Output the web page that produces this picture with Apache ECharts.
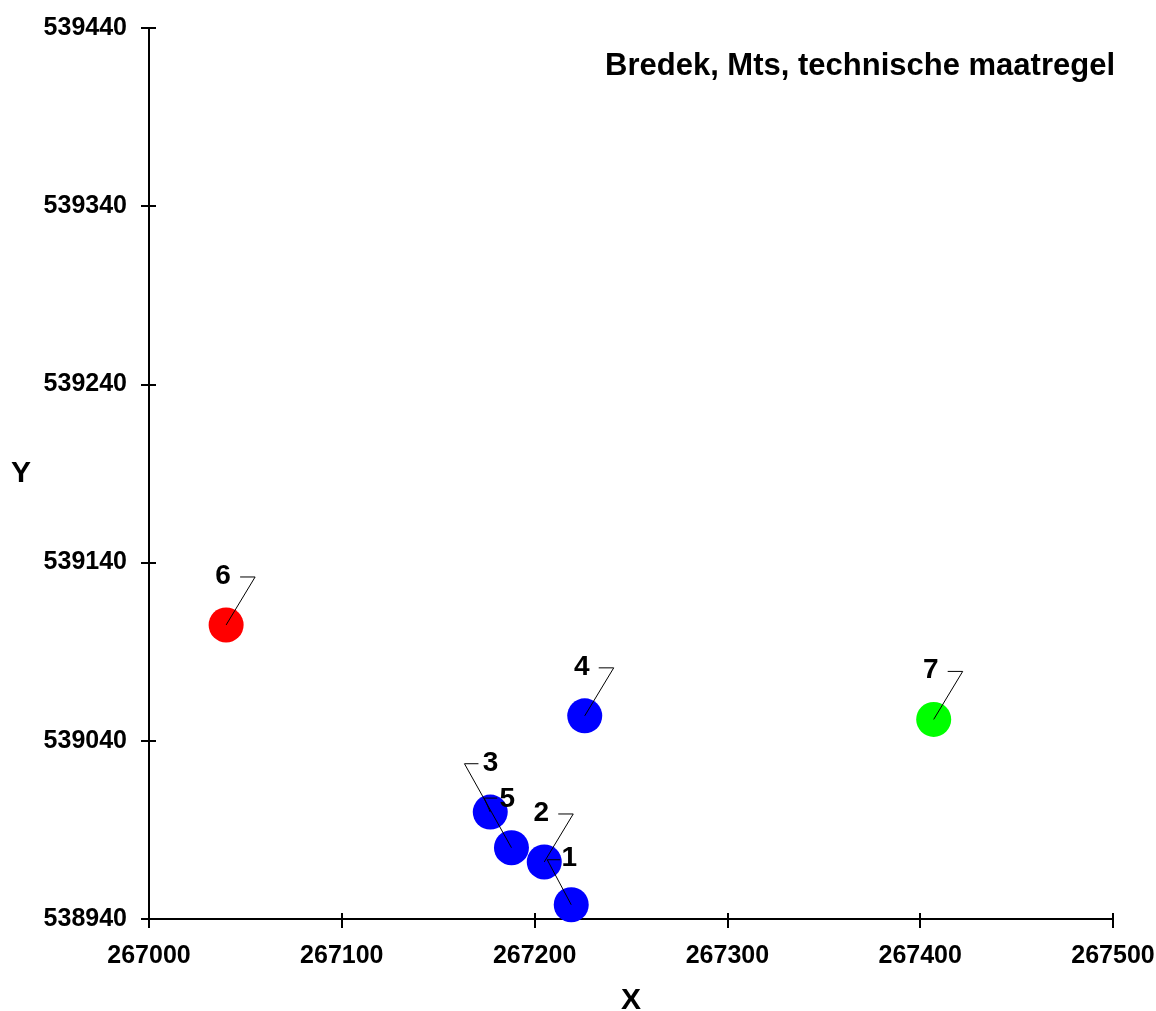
<!DOCTYPE html>
<html>
<head>
<meta charset="utf-8">
<title>Bredek, Mts, technische maatregel</title>
<script src="https://cdn.jsdelivr.net/npm/echarts@6/dist/echarts.min.js"></script>
<style>
  html, body { margin: 0; padding: 0; background: #fff; }
  #main { width: 1156px; height: 1011px; }
</style>
</head>
<body>
<div id="main"></div>
<script>
    // punten (naam, X, Y)
    var pointNames = ['1', '2', '3', '4', '5', '6', '7'];
    var pointX = [267219, 267205, 267188, 267226, 267177, 267040, 267407];
    var pointY = [538948, 538972, 538980, 539054, 539000, 539105, 539052];

    var xTicks = [267000, 267500, 100];
    var yTicks = [538940, 539440, 100];

    // kleur per punt, rest blauw
    var pointColor = { '6': '#ff0000', '7': '#00ff00' };
    // leader: [eind dx, eind dy, haak dx, tekst dx, tekst dy]
    var leader = {
        '1': [-24, -45, -11, -2, -46],
        '3': [-47, -84, -33, -21, -84],
        '5': [-6, -14, 7, 17, -13]
    };
    var leaderDefault = [29, -48, 14, -3, -49];

    var font = '"Liberation Sans", Arial, sans-serif';

    var pts = [];
    for (var i = 0; i < pointNames.length; i++) {
        pts.push([pointX[i], pointY[i], pointNames[i]]);
    }

    var myChart = echarts.init(document.getElementById('main'));

    var nameText = { color: '#000', fontFamily: font, fontWeight: 'bold', fontSize: 30 };
    var tickLabel = function (v) { return String(v); };

    var option = {
        backgroundColor: '#fff',
        animation: false,
        title: {
            text: 'Bredek, Mts, technische maatregel',
            right: 36,
            top: 46,
            textStyle: { color: '#000', fontFamily: font, fontWeight: 'bold', fontSize: 31 }
        },
        grid: { left: 149, right: 43, top: 28, bottom: 92, containLabel: false, outerBoundsMode: 'none' },
        xAxis: [{
            type: 'value',
            min: xTicks[0], max: xTicks[1], interval: xTicks[2],
            name: 'X',
            nameLocation: 'middle',
            nameGap: 67,
            nameTextStyle: nameText,
            axisLine: { show: true, lineStyle: { color: '#000', width: 2 } },
            axisTick: { show: true, length: 9, lineStyle: { color: '#000', width: 2 } },
            axisLabel: { margin: 25, color: '#000', fontFamily: font, fontWeight: 'bold', fontSize: 25, formatter: tickLabel },
            splitLine: { show: false }
        }, {
            type: 'value',
            position: 'bottom',
            min: xTicks[0], max: xTicks[1], interval: xTicks[2],
            axisLine: { show: true, onZero: false, lineStyle: { color: '#000', width: 2 } },
            axisTick: { show: true, inside: true, length: 6, lineStyle: { color: '#000', width: 2 } },
            axisLabel: { show: false },
            splitLine: { show: false }
        }],
        yAxis: [{
            type: 'value',
            min: yTicks[0], max: yTicks[1], interval: yTicks[2],
            name: 'Y',
            nameLocation: 'middle',
            nameRotate: 0,
            nameGap: 118,
            nameTextStyle: nameText,
            axisLine: { show: true, lineStyle: { color: '#000', width: 2 } },
            axisTick: { show: true, length: 8, lineStyle: { color: '#000', width: 2 } },
            axisLabel: { margin: 22, color: '#000', fontFamily: font, fontWeight: 'bold', fontSize: 25, formatter: tickLabel },
            splitLine: { show: false }
        }, {
            type: 'value',
            position: 'left',
            min: yTicks[0], max: yTicks[1], interval: yTicks[2],
            axisLine: { show: true, onZero: false, lineStyle: { color: '#000', width: 2 } },
            axisTick: { show: true, inside: true, length: 7, lineStyle: { color: '#000', width: 2 } },
            axisLabel: { show: false },
            splitLine: { show: false }
        }],
        series: [{
            type: 'scatter',
            data: pts,
            symbol: 'circle',
            symbolSize: 35,
            itemStyle: {
                opacity: 1,
                color: function (p) { return pointColor[p.data[2]] || '#0000ff'; }
            },
            z: 2
        }, {
            type: 'custom',
            data: pts,
            z: 3,
            renderItem: function (params, api) {
                var c = api.coord([api.value(0), api.value(1)]);
                var name = pointNames[params.dataIndex];
                var L = leader[name] || leaderDefault;
                var ex = c[0] + L[0], ey = c[1] + L[1];
                return {
                    type: 'group',
                    children: [{
                        type: 'polyline',
                        shape: { points: [[c[0], c[1]], [ex, ey], [c[0] + L[2], ey]] },
                        style: { stroke: '#000', lineWidth: 1, fill: null }
                    }, {
                        type: 'text',
                        x: c[0] + L[3],
                        y: c[1] + L[4],
                        style: {
                            text: name,
                            fill: '#000',
                            font: 'bold 28px ' + font,
                            align: 'center',
                            verticalAlign: 'middle'
                        }
                    }]
                };
            }
        }]
    };
    myChart.setOption(option);
</script>
</body>
</html>
